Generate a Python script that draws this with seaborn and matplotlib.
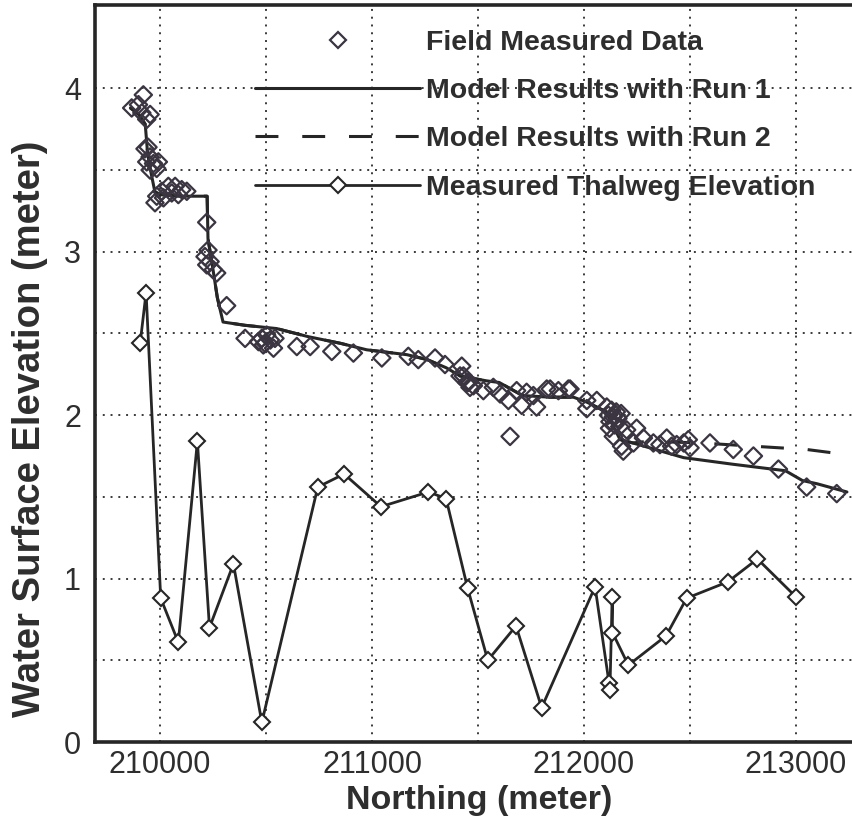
import matplotlib
matplotlib.use("Agg")
import matplotlib.pyplot as plt
from matplotlib.lines import Line2D
import seaborn as sns
import pandas as pd

# ---- data -------------------------------------------------------------
field_x = [209866, 209898, 209921, 209914, 209953, 209937,
           209929, 209953, 209937, 209969, 209984, 209953, 209992, 209943,
           209976, 209984, 210008, 210016, 210039, 210055, 210071, 210086, 210102, 210126,
           210220,
           210212, 210220, 210226, 210236, 210251, 210267,
           210314,
           210401, 210464, 210480, 210487, 210495, 210503, 210520, 210535, 210542,
           210645, 210708, 210810, 210912, 211046, 211171, 211218, 211297, 211344,
           211423, 211415, 211431, 211447, 211454, 211462, 211478, 211525, 211572,
           211604, 211643, 211651, 211682, 211706, 211729, 211761, 211776, 211824,
           211840, 211879, 211926, 211934,
           212013, 212013, 212060,
           212107, 212115, 212122, 212130, 212138, 212145, 212152, 212160, 212168,
           212120, 212175, 212201, 212138, 212177, 212185, 212233, 212248, 212280,
           212327, 212358, 212390, 212413, 212437, 212470, 212492, 212500, 212594,
           212704, 212799, 212917, 213050, 213192]
field_y = [3.88, 3.90, 3.96, 3.85, 3.84, 3.81,
           3.63, 3.58, 3.55, 3.54, 3.51, 3.50, 3.55, 3.64,
           3.30, 3.34, 3.37, 3.33, 3.40, 3.36, 3.40, 3.35, 3.38, 3.37,
           3.18,
           2.97, 2.92, 3.01, 2.94, 2.89, 2.87,
           2.67,
           2.47, 2.45, 2.47, 2.43, 2.44, 2.49, 2.46, 2.41, 2.47,
           2.42, 2.42, 2.39, 2.38, 2.35, 2.36, 2.34, 2.35, 2.31,
           2.30, 2.24, 2.24, 2.20, 2.20, 2.17, 2.18, 2.15, 2.17,
           2.13, 2.09, 1.87, 2.15, 2.06, 2.14, 2.12, 2.05, 2.16,
           2.16, 2.15, 2.16, 2.16,
           2.09, 2.04, 2.09,
           2.05, 2.00, 1.96, 2.03, 1.99, 1.94, 2.02, 1.98, 1.93,
           1.92, 2.01, 1.91, 1.87, 1.81, 1.78, 1.83, 1.92, 1.86,
           1.83, 1.82, 1.86, 1.81, 1.82, 1.83, 1.85, 1.80, 1.83,
           1.79, 1.75, 1.67, 1.56, 1.52]

run1_x = [209860, 209900, 209930, 209940, 209950, 209975, 210000, 210100, 210150,
          210222, 210226, 210245, 210270, 210297, 210400, 210550, 210700, 210850,
          210975, 211165, 211260, 211350, 211415, 211540, 211600, 211710, 211840,
          211950, 212013, 212105, 212170, 212230, 212470, 212700, 212950, 213030,
          213100, 213240]
run1_y = [3.88, 3.84, 3.78, 3.62, 3.53, 3.37, 3.35, 3.34, 3.34,
          3.34, 3.08, 2.93, 2.72, 2.57, 2.55, 2.53, 2.48, 2.44,
          2.40, 2.37, 2.34, 2.29, 2.24, 2.21, 2.20, 2.12, 2.11,
          2.11, 2.08, 2.02, 1.85, 1.83, 1.74, 1.70, 1.66, 1.60,
          1.58, 1.53]

run2_x = run1_x[:32] + [212300, 212550, 212800, 213050, 213230]
run2_y = run1_y[:32] + [1.84, 1.83, 1.81, 1.79, 1.76]

thalweg_x = [209906, 209934, 210003, 210086, 210176, 210233, 210346, 210480,
             210744, 210868, 211042, 211266, 211349, 211451, 211546, 211679,
             211800, 212052, 212118, 212122, 212133, 212134, 212209, 212387,
             212484, 212678, 212818, 212998]
thalweg_y = [2.44, 2.75, 0.88, 0.61, 1.84, 0.70, 1.09, 0.12,
             1.56, 1.64, 1.44, 1.53, 1.49, 0.94, 0.50, 0.71,
             0.21, 0.95, 0.36, 0.32, 0.89, 0.67, 0.47, 0.65,
             0.88, 0.98, 1.12, 0.89]

x_ticks = [210000, 210500, 211000, 211500, 212000, 212500, 213000]
x_tick_labels = ["210000", "", "211000", "", "212000", "", "213000"]
y_ticks = [0, 0.5, 1, 1.5, 2, 2.5, 3, 3.5, 4]
y_tick_labels = ["0", "", "1", "", "2", "", "3", "", "4"]

legend_labels = ["Field Measured Data", "Model Results with Run 1",
                 "Model Results with Run 2", "Measured Thalweg Elevation"]

# ---- style ------------------------------------------------------------
sns.set_theme(style="white")
plt.rcParams["font.family"] = ["Liberation Sans", "DejaVu Sans"]
ink = "#262626"
txt = "#2e2e2e"
mark = "#3b3541"

fig = plt.figure(figsize=(8.52, 8.21), dpi=100)
ax = fig.add_axes([95 / 852, 79 / 821, 757 / 852, 737 / 821])

field = pd.DataFrame({"x": field_x, "y": field_y})
run1 = pd.DataFrame({"x": run1_x, "y": run1_y})
run2 = pd.DataFrame({"x": run2_x, "y": run2_y})
thal = pd.DataFrame({"x": thalweg_x, "y": thalweg_y})

dash = (0, (7.5, 7.8))

sns.lineplot(data=run2, x="x", y="y", ax=ax, sort=False, estimator=None,
             color=ink, lw=2.2, linestyle=dash, zorder=2)
sns.lineplot(data=run1, x="x", y="y", ax=ax, sort=False, estimator=None,
             color=ink, lw=2.2, zorder=2)
sns.lineplot(data=thal, x="x", y="y", ax=ax, sort=False, estimator=None,
             color=ink, lw=2.0, marker="D", markersize=8,
             markerfacecolor="white", markeredgecolor=ink,
             markeredgewidth=1.5, zorder=3)
sns.scatterplot(data=field, x="x", y="y", ax=ax, marker="D", s=78,
                color=mark, linewidth=1.6, zorder=4)
for coll in ax.collections:
    coll.set_facecolor("none")
    coll.set_edgecolor(mark)

ax.set_xlim(209693, 213264)
ax.set_ylim(0, 4.51)
ax.set_xticks(x_ticks)
ax.set_xticklabels(x_tick_labels)
ax.set_yticks(y_ticks)
ax.set_yticklabels(y_tick_labels)

ax.grid(True, linestyle=(0, (1, 3)), color="#3a3a3a", lw=1.4)
ax.tick_params(axis="both", direction="in", length=12, width=2.4,
               color=ink, labelsize=22, labelcolor=txt)
ax.tick_params(axis="x", pad=6)
ax.tick_params(axis="y", pad=10)
for side in ["left", "bottom", "top"]:
    ax.spines[side].set_linewidth(2.6)
    ax.spines[side].set_color(ink)
ax.spines["right"].set_visible(False)

ax.set_xlabel("Northing (meter)", fontsize=24.5, fontweight="bold", color=txt,
              va="center")
ax.set_ylabel("Water Surface Elevation (meter)", fontsize=27.5,
              fontweight="bold", color=txt, va="center")
ax.xaxis.set_label_coords((479 - 95) / 757, (742.4 - 801) / 737)
ax.yaxis.set_label_coords((30 - 95) / 757, (742.4 - 429) / 737)

handles = [
    Line2D([], [], ls="none", marker="D", ms=8, mfc="none", mec=mark, mew=1.6),
    Line2D([], [], color=ink, lw=2.2),
    Line2D([], [], color=ink, lw=2.2, ls=dash),
    Line2D([], [], color=ink, lw=2.0, marker="D", ms=8, mfc="white",
           mec=ink, mew=1.5),
]
ax.legend(handles, legend_labels, loc="upper left",
          bbox_to_anchor=(255 / 852, 1 - 30 / 821),
          bbox_transform=fig.transFigure, frameon=False,
          prop={"size": 20.5, "weight": "bold"}, labelcolor=txt,
          handlelength=5.8, handletextpad=0.2, labelspacing=0.78,
          borderpad=0, borderaxespad=0, numpoints=1)

fig.savefig("out.png", dpi=100)
